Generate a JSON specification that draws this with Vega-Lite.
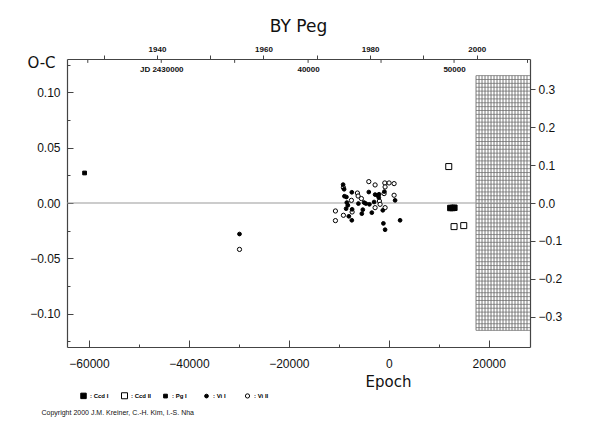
{
  "$schema": "https://vega.github.io/schema/vega-lite/v6.json",
  "description": "O-C diagram of BY Peg against epoch.",
  "width": 463,
  "height": 288,
  "autosize": {"type": "none"},
  "padding": {"left": 67, "top": 59, "right": 60, "bottom": 78},
  "background": "white",
  "title": {
    "text": "BY Peg",
    "font": "DejaVu Sans",
    "fontSize": 17,
    "fontWeight": "normal",
    "color": "#111",
    "anchor": "middle",
    "baseline": "bottom",
    "offset": -8
  },
  "datasets": {
    "obs": [
      {"series": "Pg I", "e": -60880, "oc": 0.0271},
      {"series": "Ccd II", "e": 12000, "oc": 0.0329},
      {"series": "Ccd II", "e": 13060, "oc": -0.0213},
      {"series": "Ccd II", "e": 15000, "oc": -0.0204},
      {"series": "Ccd I", "e": 12320, "oc": -0.0045},
      {"series": "Ccd I", "e": 12760, "oc": -0.0045},
      {"series": "Ccd I", "e": 13120, "oc": -0.0043},
      {"series": "Vi II", "e": -29880, "oc": -0.0419},
      {"series": "Vi II", "e": -9080, "oc": 0.0139},
      {"series": "Vi II", "e": -10680, "oc": -0.0072},
      {"series": "Vi II", "e": -10680, "oc": -0.0159},
      {"series": "Vi II", "e": -9080, "oc": -0.0111},
      {"series": "Vi II", "e": -7340, "oc": -0.0081},
      {"series": "Vi II", "e": -7480, "oc": 0.0024},
      {"series": "Vi II", "e": -6280, "oc": 0.009},
      {"series": "Vi II", "e": -6140, "oc": 0.0063},
      {"series": "Vi II", "e": -5480, "oc": 0.004},
      {"series": "Vi II", "e": -4000, "oc": 0.0193},
      {"series": "Vi II", "e": -2740, "oc": 0.0163},
      {"series": "Vi II", "e": -800, "oc": 0.0181},
      {"series": "Vi II", "e": 60, "oc": 0.0181},
      {"series": "Vi II", "e": 1060, "oc": 0.0175},
      {"series": "Vi II", "e": -740, "oc": 0.0145},
      {"series": "Vi II", "e": -940, "oc": 0.0085},
      {"series": "Vi II", "e": 1060, "oc": 0.007},
      {"series": "Vi II", "e": -1880, "oc": 0.0018},
      {"series": "Vi II", "e": -1740, "oc": -0.0012},
      {"series": "Vi II", "e": -2740, "oc": -0.0042},
      {"series": "Vi II", "e": -740, "oc": -0.0042},
      {"series": "Vi I", "e": -29880, "oc": -0.028},
      {"series": "Vi I", "e": -9140, "oc": 0.0166},
      {"series": "Vi I", "e": -8940, "oc": 0.0124},
      {"series": "Vi I", "e": -8880, "oc": 0.0061},
      {"series": "Vi I", "e": -8480, "oc": 0.0054},
      {"series": "Vi I", "e": -7400, "oc": 0.0097},
      {"series": "Vi I", "e": -4000, "oc": 0.0099},
      {"series": "Vi I", "e": -2740, "oc": 0.0076},
      {"series": "Vi I", "e": -2280, "oc": 0.007},
      {"series": "Vi I", "e": -1940, "oc": 0.0079},
      {"series": "Vi I", "e": -2000, "oc": 0.0049},
      {"series": "Vi I", "e": -8400, "oc": 0.0004},
      {"series": "Vi I", "e": -8200, "oc": -0.0021},
      {"series": "Vi I", "e": -6080, "oc": -0.0005},
      {"series": "Vi I", "e": -4940, "oc": 0.0004},
      {"series": "Vi I", "e": -4600, "oc": -0.0005},
      {"series": "Vi I", "e": -3880, "oc": -0.0012},
      {"series": "Vi I", "e": -2940, "oc": 0.0009},
      {"series": "Vi I", "e": -8540, "oc": -0.0051},
      {"series": "Vi I", "e": -7340, "oc": -0.0057},
      {"series": "Vi I", "e": -5200, "oc": -0.006},
      {"series": "Vi I", "e": -5400, "oc": -0.0096},
      {"series": "Vi I", "e": -3400, "oc": -0.0087},
      {"series": "Vi I", "e": -1200, "oc": -0.0066},
      {"series": "Vi I", "e": -8000, "oc": -0.012},
      {"series": "Vi I", "e": -7400, "oc": -0.0156},
      {"series": "Vi I", "e": -1080, "oc": -0.0184},
      {"series": "Vi I", "e": -740, "oc": -0.0241},
      {"series": "Vi I", "e": 1260, "oc": 0.0024},
      {"series": "Vi I", "e": 2260, "oc": -0.0156},
      {"series": "Vi I", "e": -880, "oc": 0.0103}
    ],
    "jd": [
      {"jd": 2425000, "e": -60240},
      {"jd": 2430000, "e": -45540},
      {"jd": 2435000, "e": -30850},
      {"jd": 2440000, "e": -16150},
      {"jd": 2445000, "e": -1550},
      {"jd": 2450000, "e": 13060},
      {"jd": 2455000, "e": 27760}
    ],
    "hatchX": [
      {"e": 17460}, {"e": 18060}, {"e": 18660}, {"e": 19260}, {"e": 19860},
      {"e": 20460}, {"e": 21060}, {"e": 21660}, {"e": 22260}, {"e": 22860},
      {"e": 23460}, {"e": 24060}, {"e": 24660}, {"e": 25260}, {"e": 25860},
      {"e": 26460}, {"e": 27060}, {"e": 27660}
    ],
    "hatchY": [
      {"oc": 0.115}, {"oc": 0.1115}, {"oc": 0.108}, {"oc": 0.1045}, {"oc": 0.101},
      {"oc": 0.0975}, {"oc": 0.094}, {"oc": 0.0905}, {"oc": 0.087}, {"oc": 0.0835},
      {"oc": 0.08}, {"oc": 0.0765}, {"oc": 0.073}, {"oc": 0.0695}, {"oc": 0.066},
      {"oc": 0.0625}, {"oc": 0.059}, {"oc": 0.0555}, {"oc": 0.052}, {"oc": 0.0485},
      {"oc": 0.045}, {"oc": 0.0415}, {"oc": 0.038}, {"oc": 0.0345}, {"oc": 0.031},
      {"oc": 0.0275}, {"oc": 0.024}, {"oc": 0.0205}, {"oc": 0.017}, {"oc": 0.0135},
      {"oc": 0.01}, {"oc": 0.0065}, {"oc": 0.003}, {"oc": -0.0005}, {"oc": -0.004},
      {"oc": -0.0075}, {"oc": -0.011}, {"oc": -0.0145}, {"oc": -0.018}, {"oc": -0.0215},
      {"oc": -0.025}, {"oc": -0.0285}, {"oc": -0.032}, {"oc": -0.0355}, {"oc": -0.039},
      {"oc": -0.0425}, {"oc": -0.046}, {"oc": -0.0495}, {"oc": -0.053}, {"oc": -0.0565},
      {"oc": -0.06}, {"oc": -0.0635}, {"oc": -0.067}, {"oc": -0.0705}, {"oc": -0.074},
      {"oc": -0.0775}, {"oc": -0.081}, {"oc": -0.0845}, {"oc": -0.088}, {"oc": -0.0915},
      {"oc": -0.095}, {"oc": -0.0985}, {"oc": -0.102}, {"oc": -0.1055}, {"oc": -0.109},
      {"oc": -0.1125}, {"oc": -0.115}
    ]
  },
  "config": {
    "view": {"stroke": null},
    "axis": {
      "grid": false,
      "labelFont": "Liberation Sans",
      "titleFont": "DejaVu Sans",
      "labelColor": "#111",
      "titleColor": "#111",
      "domainColor": "#444",
      "domainWidth": 1.2,
      "tickColor": "#444",
      "labelOverlap": false,
      "labelFlush": false
    }
  },
  "layer": [
    {
      "data": {"name": "hatchX"},
      "mark": {"type": "rule", "stroke": "#555", "strokeWidth": 0.8},
      "encoding": {
        "x": {
          "field": "e",
          "type": "quantitative",
          "scale": {"domain": [-64400, 28260], "nice": false, "zero": false},
          "axis": {
            "orient": "top",
            "title": null,
            "values": [-57070, -46400, -35730, -25080, -14410, -3740, 6930, 17600],
            "labelExpr": "datum.value == -46400 ? '1940' : datum.value == -25080 ? '1960' : datum.value == -3740 ? '1980' : datum.value == 17600 ? '2000' : ''",
            "tickSize": 4,
            "labelPadding": 2,
            "labelFontSize": 8,
            "labelFontWeight": "bold"
          }
        },
        "y": {"datum": 0.115, "axis": null},
        "y2": {"datum": -0.115}
      }
    },
    {
      "data": {"name": "hatchY"},
      "mark": {"type": "rule", "stroke": "#666", "strokeWidth": 0.7},
      "encoding": {
        "x": {"datum": 17460, "axis": null},
        "x2": {"datum": 28260},
        "y": {
          "field": "oc",
          "type": "quantitative",
          "scale": {"domain": [-0.13, 0.13], "nice": false, "zero": false},
          "axis": {
            "orient": "right",
            "values": [-0.1026, -0.0684, -0.0342, 0, 0.0342, 0.0684, 0.1026],
            "labelExpr": "format(datum.value / 0.342, '.1f')",
            "tickSize": 5,
            "labelPadding": 3,
            "labelFontSize": 12,
            "title": "Copyright 2000 J.M. Kreiner, C.-H. Kim, I.-S. Nha",
            "titleAngle": 0,
            "titleAlign": "left",
            "titleBaseline": "middle",
            "titleX": -489,
            "titleY": 353,
            "titleFont": "Liberation Sans",
            "titleFontSize": 7,
            "titleFontWeight": "normal"
          }
        }
      }
    },
    {
      "data": {"values": [{}]},
      "mark": {"type": "rule", "stroke": "#999", "strokeWidth": 1},
      "encoding": {"y": {"datum": 0, "axis": null}}
    },
    {
      "data": {"name": "jd"},
      "mark": {"type": "rule", "stroke": "#444", "strokeWidth": 1},
      "encoding": {
        "x": {
          "field": "e",
          "type": "quantitative",
          "axis": {
            "orient": "top",
            "title": null,
            "domain": false,
            "ticks": false,
            "values": [-45540, -16150, 13060],
            "labelExpr": "datum.value == -45540 ? 'JD 2430000' : datum.value == -16150 ? '40000' : '50000'",
            "labelPadding": -14,
            "labelFontSize": 8,
            "labelFontWeight": "bold"
          }
        },
        "y": {"datum": 0.13, "axis": null},
        "y2": {"datum": 0.1265}
      }
    },
    {
      "data": {"name": "obs"},
      "mark": {"type": "point", "filled": true, "stroke": "black", "strokeWidth": 1, "opacity": 1},
      "encoding": {
        "x": {
          "field": "e",
          "type": "quantitative",
          "axis": {
            "orient": "bottom",
            "values": [-60000, -50000, -40000, -30000, -20000, -10000, 0, 10000, 20000],
            "labelExpr": "datum.value % 20000 == 0 ? format(datum.value, 'd') : ''",
            "tickSize": {"condition": {"test": "datum.value % 20000 == 0", "value": -7}, "value": -3},
            "labelPadding": 18,
            "labelFontSize": 12,
            "title": "Epoch",
            "titleFontSize": 15,
            "titleFontWeight": "normal",
            "titleX": 321,
            "titleY": 27,
            "titleBaseline": "top"
          }
        },
        "y": {
          "field": "oc",
          "type": "quantitative",
          "axis": {
            "orient": "left",
            "values": [-0.125, -0.1, -0.075, -0.05, -0.025, 0, 0.025, 0.05, 0.075, 0.1, 0.125],
            "labelExpr": "abs(round(datum.value * 1000)) % 50 == 0 ? format(datum.value, '.2f') : ''",
            "tickSize": {"condition": {"test": "abs(round(datum.value * 1000)) % 50 == 0", "value": -6}, "value": -3},
            "labelPadding": 13,
            "labelFontSize": 12,
            "title": "O-C",
            "titleAngle": 0,
            "titleAlign": "center",
            "titleBaseline": "middle",
            "titleX": -26,
            "titleY": 3,
            "titleFontSize": 15,
            "titleFontWeight": "normal"
          }
        },
        "shape": {
          "field": "series",
          "type": "nominal",
          "scale": {
            "domain": ["Ccd I", "Ccd II", "Pg I", "Vi I", "Vi II"],
            "range": ["square", "square", "square", "circle", "circle"]
          },
          "legend": {
            "orient": "none",
            "legendX": 13,
            "legendY": 333,
            "direction": "horizontal",
            "columns": 5,
            "gridAlign": "all",
            "columnPadding": 8,
            "title": null,
            "labelFont": "Liberation Sans",
            "labelFontSize": 6,
            "labelFontWeight": "bold",
            "labelExpr": "': ' + datum.label",
            "labelOffset": 3,
            "symbolStrokeColor": "black",
            "symbolStrokeWidth": 1
          }
        },
        "fill": {
          "field": "series",
          "type": "nominal",
          "scale": {
            "domain": ["Ccd I", "Ccd II", "Pg I", "Vi I", "Vi II"],
            "range": ["#000000", "#ffffff", "#000000", "#000000", "#ffffff"]
          }
        },
        "size": {
          "field": "series",
          "type": "nominal",
          "scale": {
            "type": "ordinal",
            "domain": ["Ccd I", "Ccd II", "Pg I", "Vi I", "Vi II"],
            "range": [30, 36, 14, 14, 18]
          }
        }
      }
    }
  ],
  "resolve": {"axis": {"x": "independent", "y": "independent"}}
}
